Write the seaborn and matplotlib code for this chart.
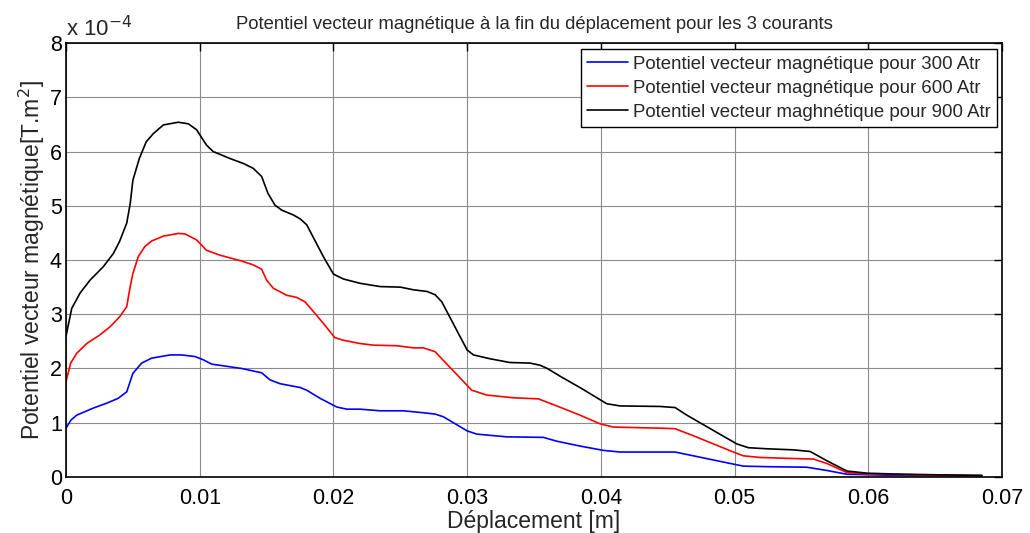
import numpy as np
import pandas as pd
import matplotlib
matplotlib.use("Agg")
import matplotlib.pyplot as plt
import seaborn as sns

# Displacement [m] and vector potential [1e-4 T.m^2] for each current
x_300 = [0, 0.00037, 0.0008, 0.00204, 0.00304, 0.0039, 0.00454, 0.0050, 0.00566, 0.0064,
         0.00778, 0.00865, 0.00965, 0.01027, 0.0109, 0.01314, 0.01463, 0.01526, 0.0160, 0.0175,
         0.0180, 0.0190, 0.02025, 0.0210, 0.0220, 0.02349, 0.02523, 0.02648, 0.0276, 0.02822,
         0.0300, 0.03072, 0.03296, 0.0357, 0.0367, 0.03844, 0.04019, 0.04144, 0.04555, 0.04692,
         0.04966, 0.05066, 0.0524, 0.0554, 0.0569, 0.0584, 0.0619, 0.0685]
a_300 = [0.90, 1.05, 1.14, 1.27, 1.36, 1.45, 1.57, 1.91, 2.10, 2.19,
         2.25, 2.25, 2.22, 2.16, 2.08, 2.00, 1.92, 1.79, 1.72, 1.65,
         1.60, 1.45, 1.29, 1.25, 1.25, 1.22, 1.22, 1.19, 1.16, 1.11,
         0.85, 0.79, 0.74, 0.73, 0.66, 0.57, 0.49, 0.46, 0.46, 0.39,
         0.25, 0.20, 0.19, 0.18, 0.12, 0.05, 0.03, 0.02]

x_600 = [0, 0.00035, 0.0008, 0.00155, 0.00254, 0.0033, 0.0040, 0.00454, 0.0048, 0.0050,
         0.0054, 0.0059, 0.0064, 0.00728, 0.0084, 0.0089, 0.00977, 0.0105, 0.0115, 0.01314,
         0.0140, 0.01463, 0.0150, 0.0155, 0.0165, 0.01725, 0.01787, 0.0185, 0.01925, 0.0201,
         0.02074, 0.0220, 0.0230, 0.02473, 0.0260, 0.02672, 0.0276, 0.03034, 0.03147, 0.03346,
         0.03533, 0.0367, 0.03844, 0.03994, 0.04093, 0.04443, 0.04555, 0.04692, 0.04991, 0.05066,
         0.0519, 0.0544, 0.0559, 0.0569, 0.0584, 0.0599, 0.0644, 0.0685]
a_600 = [1.76, 2.10, 2.28, 2.46, 2.62, 2.77, 2.95, 3.14, 3.51, 3.75,
         4.06, 4.25, 4.35, 4.44, 4.49, 4.48, 4.37, 4.18, 4.09, 3.98,
         3.91, 3.83, 3.63, 3.48, 3.35, 3.31, 3.23, 3.05, 2.83, 2.57,
         2.52, 2.46, 2.43, 2.42, 2.38, 2.38, 2.31, 1.60, 1.51, 1.46,
         1.44, 1.31, 1.14, 0.98, 0.92, 0.90, 0.89, 0.76, 0.46, 0.39,
         0.36, 0.34, 0.33, 0.25, 0.08, 0.055, 0.037, 0.025]

x_900 = [0, 0.00043, 0.00105, 0.0018, 0.0028, 0.00354, 0.0040, 0.00454, 0.0048, 0.0050,
         0.00548, 0.0060, 0.00653, 0.00728, 0.0084, 0.00915, 0.00977, 0.0105, 0.0110, 0.01227,
         0.01326, 0.0140, 0.01463, 0.0151, 0.01563, 0.01613, 0.0170, 0.0175, 0.0180, 0.01925,
         0.0200, 0.02074, 0.0220, 0.02349, 0.0250, 0.0260, 0.0270, 0.0276, 0.0281, 0.0300,
         0.03047, 0.0317, 0.0332, 0.0347, 0.03545, 0.0360, 0.0370, 0.0385, 0.04044, 0.04144,
         0.04443, 0.04555, 0.04643, 0.05016, 0.05103, 0.0524, 0.0544, 0.05565, 0.0569, 0.0584,
         0.0599, 0.0619, 0.0651, 0.0685]
a_900 = [2.60, 3.11, 3.39, 3.63, 3.88, 4.12, 4.34, 4.68, 5.04, 5.47,
         5.87, 6.18, 6.33, 6.49, 6.54, 6.51, 6.40, 6.12, 6.00, 5.87,
         5.78, 5.69, 5.54, 5.23, 5.01, 4.92, 4.83, 4.76, 4.65, 4.06,
         3.74, 3.65, 3.57, 3.51, 3.50, 3.45, 3.42, 3.36, 3.23, 2.34,
         2.25, 2.18, 2.11, 2.10, 2.06, 2.00, 1.85, 1.64, 1.35, 1.31,
         1.30, 1.28, 1.14, 0.61, 0.54, 0.52, 0.50, 0.47, 0.30, 0.11,
         0.07, 0.055, 0.04, 0.03]

series_labels = [
    "Potentiel vecteur magnétique pour 300 Atr",
    "Potentiel vecteur magnétique pour 600 Atr",
    "Potentiel vecteur maghnétique pour 900 Atr",
]
series_colors = ["#0000ff", "#ff0000", "#000000"]
x_ticks = [0, 0.01, 0.02, 0.03, 0.04, 0.05, 0.06, 0.07]
x_tick_labels = ["0", "0.01", "0.02", "0.03", "0.04", "0.05", "0.06", "0.07"]
y_ticks = [0, 1, 2, 3, 4, 5, 6, 7, 8]

frames = []
for lbl, xs, ys in zip(series_labels, [x_300, x_600, x_900], [a_300, a_600, a_900]):
    frames.append(pd.DataFrame({"x": xs, "A": ys, "serie": lbl}))
df = pd.concat(frames, ignore_index=True)

sns.set_style("white")
plt.rcParams["font.family"] = ["Liberation Sans", "DejaVu Sans"]

fig = plt.figure(figsize=(10.3, 5.33), dpi=100)
ax = fig.add_axes([0.0641, 0.1051, 0.9087, 0.8142])

sns.lineplot(data=df, x="x", y="A", hue="serie", hue_order=series_labels,
             palette=series_colors, estimator=None, sort=True, linewidth=1.2, ax=ax)

ax.set_xlim(0, 0.07)
ax.set_ylim(0, 8)
ax.set_xticks(x_ticks)
ax.set_xticklabels(x_tick_labels)
ax.set_yticks(y_ticks)
ax.set_yticklabels([str(v) for v in y_ticks])
ax.grid(True, color="#8c8c8c", linewidth=0.8, linestyle="-")
ax.set_axisbelow(True)
ax.tick_params(direction="in", length=6, width=1, labelsize=15.5, top=True, right=True,
               colors="black")
ax.tick_params(axis="x", pad=8)
ax.tick_params(axis="y", pad=3)
for sp in ax.spines.values():
    sp.set_color("black")
    sp.set_linewidth(1.2)

ax.set_xlabel("Déplacement [m]", fontsize=16.5, labelpad=1)
ax.set_ylabel("Potentiel vecteur magnétique[T.m$^2$]", fontsize=16.5, labelpad=2)
ax.set_title("Potentiel vecteur magnétique à la fin du déplacement pour les 3 courants",
             fontsize=13.3, pad=10)
ax.text(0.0, 1.004, "x 10$^{-4}$", transform=ax.transAxes, fontsize=16,
        ha="left", va="bottom")

leg = ax.legend(loc="upper right", bbox_to_anchor=(0.9947, 0.9862), fontsize=13.4,
                frameon=True, fancybox=False, framealpha=1, edgecolor="black",
                handlelength=2.2, handletextpad=0.25, borderpad=0.35, labelspacing=0.38,
                borderaxespad=0)
leg.get_frame().set_linewidth(1.0)
leg.set_title(None)

fig.savefig("out.png", dpi=100)
